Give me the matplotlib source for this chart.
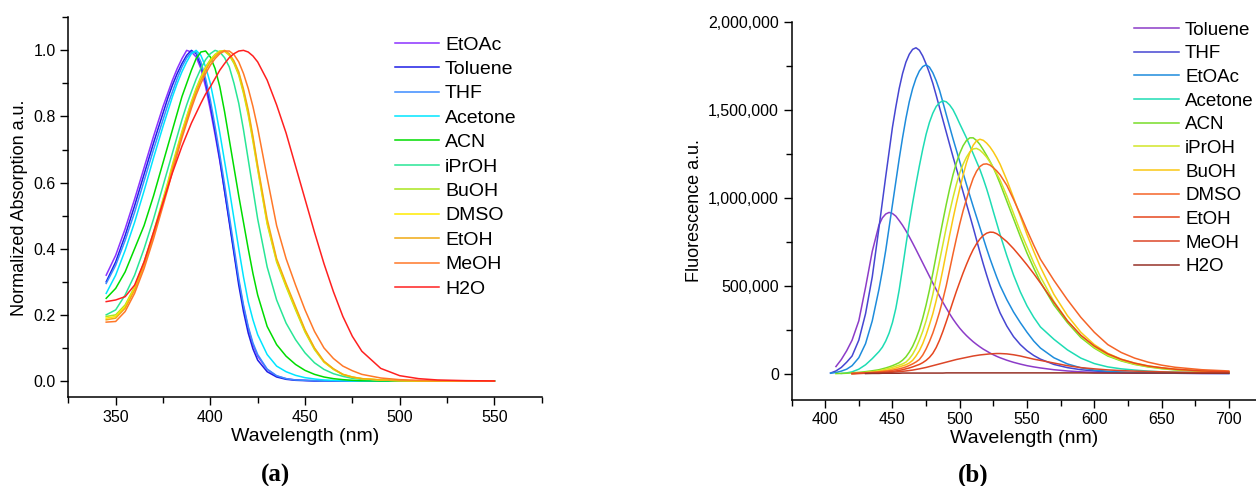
import numpy as np
import matplotlib
matplotlib.use("Agg")
import matplotlib.pyplot as plt
from matplotlib.ticker import MultipleLocator, FuncFormatter

plt.rcParams['font.family'] = ['Liberation Sans', 'DejaVu Sans']

nan = np.nan

## (a) absorpcja znormalizowana
wl_abs = [345, 350, 355, 360, 365, 370, 375,
          377.5, 380, 382.5, 385, 387.5, 390, 392.5, 395, 397.5, 400,
          402.5, 405, 407.5, 410, 412.5, 415, 417.5, 420, 422.5, 425,
          430, 435, 440, 445, 450, 455, 460, 465, 470, 475, 480,
          490, 500, 510, 520, 535, 550]

abs_names = ["EtOAc", "Toluene", "THF", "Acetone", "ACN", "iPrOH", "BuOH", "DMSO", "EtOH", "MeOH", "H2O"]
abs_colors = ["#8c32ff", "#1e1ee6", "#3c8cff", "#00e5ff", "#00dc00", "#28e696",
              "#aae61e", "#ffeb00", "#f0aa14", "#ff7828", "#ff2020"]

abs_EtOAc = [.32, .38, .46, .55, .645, .74, .83,
             .87, .91, .945, .975, 1.0, .995, .98, .945, .89, .82,
             .745, .665, .575, .485, .39, .30, .225, .16, .11, .075,
             .035, .015, .007, .003, .002, .001, .001, 0, 0, 0, 0,
             0, 0, 0, 0, 0, 0]
abs_Toluene = [.30, .36, .44, .53, .625, .72, .81,
               .855, .895, .93, .96, .985, 1.0, .99, .955, .905, .835,
               .755, .67, .575, .48, .385, .29, .21, .145, .097, .063,
               .028, .012, .005, .002, .001, 0, 0, 0, 0, 0, 0,
               0, 0, 0, 0, 0, 0]
abs_THF = [.295, .35, .425, .51, .605, .70, .79,
           .835, .875, .915, .95, .977, .995, .995, .965, .915, .85,
           .77, .685, .595, .50, .405, .31, .23, .165, .115, .08,
           .036, .016, .007, .003, .002, .001, 0, 0, 0, 0, 0,
           0, 0, 0, 0, 0, 0]
abs_Acetone = [.265, .32, .395, .48, .575, .675, .77,
               .815, .86, .90, .935, .965, .99, 1.0, .985, .95, .90,
               .83, .75, .665, .58, .49, .40, .315, .24, .185, .14,
               .08, .045, .028, .017, .01, .006, .003, .002, .001, 0, 0,
               0, 0, 0, 0, 0, 0]
abs_ACN = [.25, .28, .33, .40, .47, .56, .66,
           .71, .76, .81, .86, .90, .94, .975, .995, .998, .98,
           .945, .89, .815, .73, .645, .56, .48, .40, .325, .26,
           .165, .11, .075, .05, .032, .02, .012, .007, .004, .002, .001,
           0, 0, 0, 0, 0, 0]
abs_iPrOH = [.20, .215, .26, .32, .40, .49, .59,
             .64, .69, .74, .79, .835, .875, .913, .945, .972, .99,
             1.0, .995, .978, .95, .90, .84, .76, .67, .58, .49,
             .345, .245, .175, .125, .085, .055, .035, .022, .014, .008, .005,
             .002, .001, 0, 0, 0, 0]
abs_BuOH = [.195, .20, .23, .285, .36, .45, .55,
            .60, .655, .705, .755, .80, .845, .885, .92, .95, .972,
            .988, .998, .997, .985, .96, .925, .87, .805, .725, .64,
            .475, .36, .285, .215, .148, .095, .057, .035, .019, .011, .007,
            .003, .001, 0, 0, 0, 0]
abs_DMSO = [.19, .195, .225, .28, .355, .445, .545,
            .595, .65, .70, .75, .797, .84, .88, .915, .945, .968,
            .985, .997, .998, .988, .965, .93, .877, .812, .732, .645,
            .48, .365, .29, .22, .152, .098, .058, .036, .02, .012, .007,
            .003, .001, 0, 0, 0, 0]
abs_EtOH = [.185, .19, .22, .275, .35, .44, .54,
            .59, .645, .695, .745, .79, .835, .875, .91, .94, .965,
            .982, .995, 1.0, .99, .968, .935, .883, .82, .74, .652,
            .49, .37, .295, .225, .155, .10, .06, .037, .02, .012, .007,
            .003, .001, 0, 0, 0, 0]
abs_MeOH = [.178, .18, .21, .265, .34, .43, .53,
            .58, .635, .685, .735, .78, .825, .865, .90, .93, .955,
            .975, .99, .998, .998, .987, .965, .93, .885, .83, .765,
            .615, .47, .37, .29, .215, .15, .10, .068, .045, .031, .02,
            .009, .004, .002, .001, 0, 0]
abs_H2O = [.24, .245, .255, .29, .36, .45, .54,
           .585, .63, .67, .71, .745, .78, .81, .84, .868, .89,
           .915, .94, .96, .978, .99, .998, 1.0, .995, .983, .965,
           .91, .835, .75, .65, .55, .45, .355, .27, .195, .135, .09,
           .038, .016, .007, .003, .001, 0]

abs_data = [abs_EtOAc, abs_Toluene, abs_THF, abs_Acetone, abs_ACN, abs_iPrOH,
            abs_BuOH, abs_DMSO, abs_EtOH, abs_MeOH, abs_H2O]

## (b) fluorescencja, wartosci w tysiacach
wl_em = [404, 408, 412, 416, 420, 425, 430, 435,
         440, 442.5, 445, 447.5, 450, 452.5, 455, 457.5, 460,
         462.5, 465, 467.5, 470, 472.5, 475, 477.5, 480,
         482.5, 485, 487.5, 490, 492.5, 495, 497.5, 500,
         502.5, 505, 507.5, 510, 512.5, 515, 517.5, 520,
         522.5, 525, 527.5, 530,
         535, 540, 545, 550, 555, 560, 570, 580, 590, 600, 610, 620, 630, 640, 650, 660, 680, 700]

em_names = ["Toluene", "THF", "EtOAc", "Acetone", "ACN", "iPrOH", "BuOH", "DMSO", "EtOH", "MeOH", "H2O"]
em_colors = ["#8c3cc8", "#4646d2", "#1e8cdc", "#1edcb4", "#78dc28", "#d2e628",
             "#fac814", "#f56428", "#e6461e", "#dc4628", "#963228"]

em_Toluene = [nan, 40, 80, 130, 190, 300, 490, 695,
              845, 885, 907, 916, 910, 895, 870, 843, 812,
              778, 742, 705, 667, 629, 591, 553, 515,
              478, 440, 405, 372, 340, 310, 283, 258,
              236, 216, 198, 181, 166, 152, 139, 128,
              117, 107, 98, 90,
              76, 64, 54, 45, 38, 32, 22, 15, 10, 7, 5, 4, 3, 3, 2, 2, 1, 1]
em_THF = [3, 15, 35, 65, 100, 190, 340, 550,
          830, 975, 1120, 1260, 1400, 1515, 1620, 1705, 1770,
          1815, 1843, 1852, 1838, 1805, 1760, 1708, 1650,
          1582, 1512, 1442, 1372, 1302, 1233, 1166, 1100,
          1032, 965, 898, 830, 760, 690, 623, 560,
          500, 445, 393, 345,
          270, 210, 165, 130, 103, 82, 52, 34, 22, 15, 10, 7, 5, 4, 3, 2, 1, 1]
em_EtOAc = [2, 6, 14, 25, 45, 90, 170, 300,
            480, 585, 700, 830, 960, 1090, 1220, 1340, 1450,
            1545, 1620, 1678, 1720, 1745, 1755, 1742, 1710,
            1665, 1610, 1542, 1472, 1403, 1335, 1270, 1205,
            1140, 1075, 1012, 950, 890, 830, 770, 710,
            653, 600, 548, 500,
            420, 350, 290, 235, 185, 145, 90, 55, 33, 20, 13, 9, 6, 5, 4, 3, 2, 1]
em_Acetone = [nan, nan, 1, 4, 10, 25, 50, 85,
              125, 150, 185, 230, 290, 370, 475, 600, 730,
              855, 970, 1078, 1180, 1275, 1360, 1428, 1480,
              1518, 1540, 1550, 1545, 1527, 1500, 1462, 1420,
              1380, 1340, 1295, 1250, 1205, 1160, 1107, 1050,
              987, 920, 855, 790,
              670, 560, 465, 385, 320, 265, 195, 135, 88, 57, 38, 27, 20, 14, 10, 8, 5, 3]
em_ACN = [nan, 0, 1, 2, 4, 7, 11, 16,
          22, 27, 32, 38, 45, 53, 62, 76, 95,
          122, 155, 198, 250, 315, 390, 475, 570,
          670, 770, 868, 962, 1050, 1130, 1197, 1252,
          1295, 1325, 1340, 1340, 1325, 1302, 1272, 1240,
          1206, 1170, 1127, 1080,
          980, 880, 780, 685, 600, 520, 390, 290, 205, 145, 100, 72, 52, 38, 28, 21, 13, 9]
em_iPrOH = [nan, nan, nan, nan, 0, 3, 6, 10,
            16, 20, 25, 30, 36, 42, 48, 55, 65,
            84, 110, 145, 190, 240, 300, 370, 450,
            545, 640, 735, 830, 918, 1000, 1075, 1140,
            1190, 1230, 1260, 1277, 1280, 1270, 1252, 1230,
            1202, 1170, 1136, 1100,
            1010, 910, 810, 720, 630, 550, 410, 300, 215, 150, 105, 75, 54, 40, 30, 23, 14, 9]
em_BuOH = [nan, nan, nan, nan, 0, 3, 5, 8,
           12, 15, 18, 22, 27, 32, 38, 44, 50,
           60, 75, 100, 130, 170, 220, 278, 340,
           415, 500, 592, 690, 787, 880, 968, 1050,
           1128, 1198, 1255, 1298, 1323, 1332, 1326, 1310,
           1288, 1260, 1227, 1190,
           1100, 1000, 895, 790, 695, 605, 450, 330, 235, 165, 115, 82, 60, 44, 33, 25, 15, 10]
em_DMSO = [nan, nan, nan, nan, 0, 2, 4, 7,
           10, 12, 14, 16, 19, 23, 27, 32, 38,
           46, 55, 66, 80, 105, 140, 182, 230,
           287, 350, 422, 500, 590, 680, 767, 850,
           925, 990, 1055, 1110, 1150, 1177, 1190, 1192,
           1185, 1170, 1152, 1130,
           1070, 990, 905, 815, 730, 650, 530, 420, 320, 235, 165, 120, 88, 65, 48, 36, 22, 15]
em_EtOH = [nan, nan, nan, nan, 0, 1, 2, 3,
           5, 6, 8, 10, 12, 15, 18, 22, 27,
           32, 38, 45, 52, 62, 75, 92, 115,
           148, 190, 240, 295, 352, 410, 467, 520,
           572, 620, 665, 705, 738, 765, 785, 798,
           804, 803, 795, 782,
           750, 710, 665, 618, 568, 515, 405, 300, 218, 157, 112, 81, 59, 43, 33, 25, 15, 10]
em_MeOH = [nan, nan, nan, nan, 0, 1, 2, 3,
           4, 5, 6, 7, 8, 9.5, 11, 13, 15,
           17.5, 20, 23.5, 27, 31, 35, 40, 45,
           50, 55, 60, 65, 70, 75, 80, 84,
           88, 92, 96, 100, 103, 106, 108, 110,
           112, 113, 114, 114,
           112, 107, 100, 91, 82, 75, 60, 45, 34, 27, 21, 17, 14, 12, 10, 8, 6, 5]
em_H2O = [nan, nan, nan, nan, nan, nan, 0, 1,
          1, 2, 2, 2, 2, 2, 2, 3, 3,
          3, 3, 3, 3, 3, 3, 3, 3,
          3, 3, 3, 4, 4, 4, 4, 4,
          4, 4, 4, 4, 4, 4, 4, 4,
          4, 4, 4, 4,
          4, 4, 4, 4, 4, 4, 4, 4, 4, 3, 3, 3, 3, 3, 3, 3, 2, 2]

em_data = [em_Toluene, em_THF, em_EtOAc, em_Acetone, em_ACN, em_iPrOH,
           em_BuOH, em_DMSO, em_EtOH, em_MeOH, em_H2O]


def styl(ax):
    ax.spines['top'].set_visible(False)
    ax.spines['right'].set_visible(False)
    for s in ['left', 'bottom']:
        ax.spines[s].set_linewidth(1.1)
    ax.tick_params(which='major', direction='out', length=6, width=1.0, labelsize=11.5, pad=3)
    ax.tick_params(which='minor', direction='out', length=4, width=1.0)


fig = plt.figure(figsize=(12.56, 4.86), dpi=100)

ax1 = fig.add_axes([0.0544, 0.1821, 0.3769, 0.7823])
for nazwa, kolor, y in zip(abs_names, abs_colors, abs_data):
    ax1.plot(wl_abs, y, color=kolor, lw=1.1, label=nazwa)
ax1.set_xlim(325, 575)
ax1.set_ylim(-0.05, 1.1)
ax1.xaxis.set_major_locator(MultipleLocator(50))
ax1.xaxis.set_minor_locator(MultipleLocator(25))
ax1.yaxis.set_major_locator(MultipleLocator(0.2))
ax1.yaxis.set_minor_locator(MultipleLocator(0.1))
ax1.yaxis.set_major_formatter(FuncFormatter(lambda v, p: "%.1f" % v))
styl(ax1)
ax1.set_xlabel("Wavelength (nm)", fontsize=14, labelpad=2)
ax1.set_ylabel("Normalized Absorption a.u.", fontsize=13, labelpad=4)
ax1.legend(loc='upper left', bbox_to_anchor=(0.3145, 0.926), bbox_transform=fig.transFigure,
           frameon=False, fontsize=14, handlelength=2.26, handletextpad=0.31,
           labelspacing=0.35, borderpad=0, borderaxespad=0)

ax2 = fig.add_axes([0.6302, 0.1770, 0.3696, 0.7783])
for nazwa, kolor, y in zip(em_names, em_colors, em_data):
    ax2.plot(wl_em, np.array(y) * 1000, color=kolor, lw=1.1, label=nazwa)
ax2.set_xlim(375, 720)
ax2.set_ylim(-150000, 2000000)
ax2.xaxis.set_major_locator(MultipleLocator(50))
ax2.xaxis.set_minor_locator(MultipleLocator(25))
ax2.yaxis.set_major_locator(MultipleLocator(500000))
ax2.yaxis.set_minor_locator(MultipleLocator(250000))
ax2.yaxis.set_major_formatter(FuncFormatter(lambda v, p: "{:,.0f}".format(v)))
styl(ax2)
ax2.set_xlabel("Wavelength (nm)", fontsize=14, labelpad=2)
ax2.set_ylabel("Fluorescence a.u.", fontsize=13, labelpad=4)
ax2.legend(loc='upper left', bbox_to_anchor=(0.9029, 0.956), bbox_transform=fig.transFigure,
           frameon=False, fontsize=13.5, handlelength=2.4, handletextpad=0.32,
           labelspacing=0.35, borderpad=0, borderaxespad=0)

fig.text(0.219, 0.022, "(a)", ha='center', va='center', fontsize=18, fontweight='bold',
         family=['Liberation Serif', 'DejaVu Serif'])
fig.text(0.775, 0.022, "(b)", ha='center', va='center', fontsize=18, fontweight='bold',
         family=['Liberation Serif', 'DejaVu Serif'])

fig.savefig("out.png", dpi=100)
